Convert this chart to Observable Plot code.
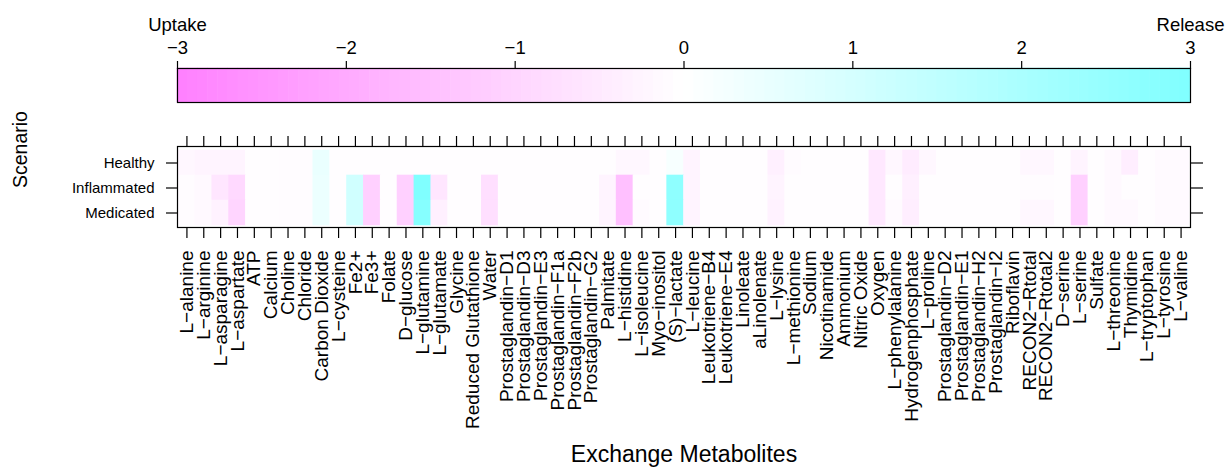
<!DOCTYPE html>
<html><head><meta charset="utf-8">
<script src="https://cdn.jsdelivr.net/npm/d3@7"></script>
<script src="https://cdn.jsdelivr.net/npm/@observablehq/plot@0.6"></script>
<style>
body{margin:0;background:#fff;}
#wrap{position:relative;width:1227px;height:474px;font-family:"Liberation Sans",Arial,sans-serif;}
#key,#heat{position:absolute;left:0;}
#key{top:0}
#heat{top:104px}
</style></head><body><div id="wrap"><div id="key"></div><div id="heat"></div></div>
<script>
const metabolites = ["L−alanine","L−arginine","L−asparagine","L−aspartate","ATP","Calcium","Choline","Chloride","Carbon Dioxide","L−cysteine","Fe2+","Fe3+","Folate","D−glucose","L−glutamine","L−glutamate","Glycine","Reduced Glutathione","Water","Prostaglandin−D1","Prostaglandin−D3","Prostaglandin−E3","Prostaglandin−F1a","Prostaglandin−F2b","Prostaglandin−G2","Palmitate","L−histidine","L−isoleucine","Myo−inositol","(S)−lactate","L−leucine","Leukotriene−B4","Leukotriene−E4","Linoleate","aLinolenate","L−lysine","L−methionine","Sodium","Nicotinamide","Ammonium","Nitric Oxide","Oxygen","L−phenylalanine","Hydrogenphosphate","L−proline","Prostaglandin−D2","Prostaglandin−E1","Prostaglandin−H2","Prostaglandin−I2","Riboflavin","RECON2−Rtotal","RECON2−Rtotal2","D−serine","L−serine","Sulfate","L−threonine","Thymidine","L−tryptophan","L−tyrosine","L−valine"];
const scenarios = ["Healthy","Inflammated","Medicated"];
const healthy = [-0.2,-0.25,-0.25,-0.25,-0.05,-0.05,-0.08,-0.08,0.5,-0.05,-0.05,-0.05,-0.05,-0.05,-0.05,-0.05,-0.05,-0.05,-0.05,-0.05,-0.05,-0.05,-0.05,-0.05,-0.05,-0.05,-0.2,-0.2,-0.05,0.2,-0.25,-0.05,-0.05,-0.05,-0.05,-0.35,-0.1,-0.05,-0.05,-0.05,-0.05,-0.55,-0.2,-0.45,-0.2,-0.05,-0.05,-0.05,-0.05,-0.05,-0.2,-0.2,-0.05,-0.25,-0.05,-0.15,-0.4,-0.05,-0.12,-0.12];
const inflammated = [-0.06,-0.15,-0.6,-0.9,-0.05,-0.05,-0.08,-0.08,0.45,-0.05,1.1,-1.1,-0.05,-1.1,3.0,-0.6,-0.05,-0.05,-0.75,-0.05,-0.05,-0.05,-0.05,-0.05,-0.05,-0.25,-1.5,-0.05,-0.05,2.65,-0.25,-0.05,-0.05,-0.05,-0.05,-0.25,-0.05,-0.05,-0.05,-0.05,-0.05,-0.55,-0.05,-0.35,-0.05,-0.05,-0.05,-0.05,-0.05,-0.05,-0.08,-0.08,-0.05,-1.1,-0.05,-0.15,-0.05,-0.05,-0.12,-0.12];
const medicated = [-0.06,-0.15,-0.3,-1.0,-0.05,-0.05,-0.08,-0.08,0.45,-0.05,1.1,-1.1,-0.05,-1.1,2.85,-0.35,-0.05,-0.05,-0.75,-0.05,-0.05,-0.05,-0.05,-0.05,-0.05,-0.25,-1.5,-0.12,-0.05,2.65,-0.25,-0.05,-0.05,-0.05,-0.05,-0.3,-0.05,-0.05,-0.05,-0.05,-0.05,-0.55,-0.12,-0.4,-0.05,-0.05,-0.05,-0.05,-0.05,-0.05,-0.2,-0.2,-0.05,-1.1,-0.05,-0.15,-0.15,-0.05,-0.12,-0.12];
const keyTicks = [-3,-2,-1,0,1,2,3];
const keyEnds = ["Uptake","Release"];
const keyEndValues = [-3,3];
const colorDomain = [-3,0,3];
const colorRange = ["#ff80ff","#ffffff","#80ffff"];

const FONT = "Liberation Sans, Arial, sans-serif";
const colorOpts = {type:"linear", domain:colorDomain, range:colorRange, interpolate:"rgb"};
const step = 0.06;
const steps = d3.range(-3, 3 - 1e-9, step);
const intFmt = d => (d < 0 ? "\u2212" + (-d) : String(d));

const key = Plot.plot({
  width:1227, height:105, marginLeft:177, marginRight:37, marginTop:68, marginBottom:3,
  style:{fontFamily:FONT, fontSize:"18.5px", color:"black", background:"transparent", overflow:"visible"},
  x:{domain:[-3,3]},
  color:colorOpts,
  marks:[
    Plot.rect(steps, {x1:d=>d, x2:d=>d+step, fill:d=>d+step/2, inset:-0.3}),
    Plot.frame({stroke:"black", strokeWidth:1.2}),
    Plot.axisX(keyTicks, {anchor:"top", tickSize:8, tickPadding:7, tickFormat:intFmt, label:null, fontSize:18.5, strokeWidth:1.2}),
    Plot.text(keyEnds, {x:(d,i)=>keyEndValues[i], frameAnchor:"top", lineAnchor:"bottom", dy:-38, fontSize:18.5})
  ]
});
document.getElementById("key").appendChild(key);

const data = scenarios.flatMap((s,j)=> metabolites.map((m,i)=>({metabolite:m, scenario:s, value:[healthy,inflammated,medicated][j][i]})));

const heat = Plot.plot({
  width:1227, height:370, marginLeft:178, marginRight:38, marginTop:45, marginBottom:248,
  style:{fontFamily:FONT, fontSize:"18.5px", color:"black", background:"transparent", overflow:"visible"},
  x:{domain:metabolites, padding:0, label:null},
  y:{domain:scenarios, padding:0, label:null},
  color:colorOpts,
  marks:[
    Plot.cell(data, {x:"metabolite", y:"scenario", fill:"value", inset:-0.3}),
    Plot.frame({stroke:"black", strokeWidth:1.2, insetLeft:-1, insetRight:-1, insetTop:-3, insetBottom:-1}),
    Plot.axisX({anchor:"top", tickSize:11, dy:-3, tickFormat:()=>"", label:null, strokeWidth:1.2}),
    Plot.axisX({anchor:"bottom", tickSize:11, dy:1, tickRotate:-90, tickPadding:12, label:null, fontSize:19, strokeWidth:1.2}),
    Plot.axisY({anchor:"left", tickSize:11, dx:-1, tickPadding:12, label:null, fontSize:15, strokeWidth:1.2}),
    Plot.axisY({anchor:"right", tickSize:12, dx:1, tickFormat:()=>"", label:null, strokeWidth:1.2}),
    Plot.text(["Scenario"], {frameAnchor:"left", dx:-158, rotate:-90, fontSize:19.5}),
    Plot.text(["Exchange Metabolites"], {frameAnchor:"bottom", dy:235, fontSize:23})
  ]
});
document.getElementById("heat").appendChild(heat);
</script></body></html>
